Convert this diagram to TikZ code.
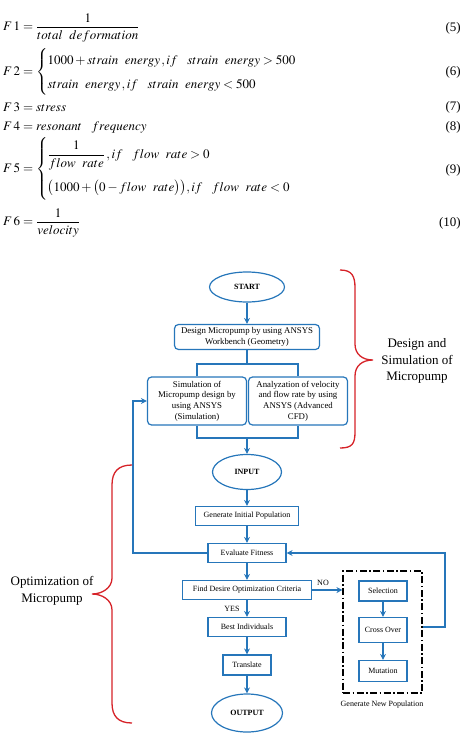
\documentclass[tikz,border=0pt]{standalone}
\usepackage{amsmath}
\usepackage{mathptmx}
\usepackage{fontspec}
\setmainfont{Liberation Serif}
\usetikzlibrary{arrows.meta,shapes.geometric}
\definecolor{flowblue}{RGB}{38,118,186}
\definecolor{bracered}{RGB}{214,34,40}
\newcommand{\eqfont}{\fontsize{13}{15.6}\selectfont}
\newcommand{\boxfont}{\fontsize{8}{9.5}\selectfont}
\newcommand{\topfont}{\fontsize{8.8}{10.6}\selectfont}
\newcommand{\bracefont}{\fontsize{13}{16.5}\selectfont}

\begin{document}
\begin{tikzpicture}[x=1pt,y=-1pt,>={Stealth[length=6pt,width=6pt]},
    eqn/.style={anchor=west,inner sep=0pt,font=\eqfont},
    blk/.style={draw=flowblue,line width=1.2pt,fill=white,align=center,inner sep=1pt,font=\boxfont},
    rblk/.style={blk,rounded corners=4pt,font=\topfont},
    term/.style={draw=flowblue,ellipse,line width=1.2pt,inner sep=0pt,font=\boxfont\bfseries},
    line/.style={flowblue,line width=1.2pt},
    arr/.style={line,->},
    pool/.style={draw,line width=1.1pt,dash pattern=on 7pt off 2.5pt on 1.5pt off 2.5pt},
    brace/.style={bracered,line width=1.3pt},
    bracetxt/.style={align=center,font=\bracefont}]
        \useasboundingbox (0,0) rectangle (465,743);

        % fitness functions
        \node (f1) at (3,28) [eqn] {$F\,1=\dfrac{1}{total\ \ deformation}$};
        \node (f2) at (3,72) [eqn] {\renewcommand{\arraystretch}{1.5}$F\,2=\left\{\begin{array}{@{}l@{}}1000+strain\ \ energy\,,if\ \ \ strain\ \ energy>500\\ strain\ \ energy\,,if\ \ \ strain\ \ energy<500\end{array}\right.$};
        \node (f3) at (3,107) [eqn] {$F\,3=stress$};
        \node (f4) at (3,127) [eqn] {$F\,4=resonant\ \ \ frequency$};
        \node (f5) at (3,169) [eqn] {\renewcommand{\arraystretch}{1.9}$F\,5=\left\{\begin{array}{@{}l@{}}\dfrac{1}{flow\ \ rate}\,,if\ \ \ flow\ \ rate>0\\ \bigl(1000+\bigl(0-flow\ \ rate\bigr)\bigr),if\ \ \ flow\ \ rate<0\end{array}\right.$};
        \node (f6) at (3,223) [eqn] {$F\,6=\dfrac{1}{velocity}$};
        \foreach \y/\n in {28/5,72/6,107/7,127/8,170/9,223/10}
                 \node (eq\n) at (461,\y) [anchor=east,inner sep=0pt,font=\eqfont] {(\n)};

        % flowchart
        \node (start) at (247,287) [term,minimum width=75pt,minimum height=30pt] {START};
        \node (design) at (247,337) [rblk,minimum width=145pt,minimum height=25pt] {Design Micropump by using ANSYS\\Workbench (Geometry)};
        \node (sim) at (197,401) [rblk,minimum width=99pt,minimum height=48pt] {Simulation of\\Micropump design by\\using ANSYS\\(Simulation)};
        \node (cfd) at (298,401) [rblk,minimum width=99pt,minimum height=48pt] {Analyzation of velocity\\and flow rate by using\\ANSYS (Advanced\\CFD)};
        \node (input) at (247,472) [term,minimum width=69pt,minimum height=35pt] {INPUT};
        \node (gen) at (247,516) [blk,minimum width=103pt,minimum height=19pt] {Generate Initial Population};
        \node (eval) at (247,553) [blk,minimum width=78pt,minimum height=19pt] {Evaluate Fitness};
        \node (find) at (247,590) [blk,minimum width=129pt,minimum height=19pt] {Find Desire Optimization Criteria};
        \node (best) at (247,627) [blk,minimum width=78pt,minimum height=19pt] {Best Individuals};
        \node (trans) at (247,665) [blk,minimum width=48pt,minimum height=20pt] {Translate};
        \node (output) at (247,713) [term,minimum width=71pt,minimum height=38pt] {OUTPUT};

        \node (gnp) at (382.5,632) [pool,minimum width=79pt,minimum height=122pt] {};
        \node (sel) at (383,591) [blk,minimum width=48pt,minimum height=20pt] {Selection};
        \node (cross) at (383,630) [blk,minimum width=48pt,minimum height=25pt] {Cross Over};
        \node (mut) at (383,671) [blk,minimum width=48pt,minimum height=21pt] {Mutation};
        \node (gnplbl) at (382,705) [font=\boxfont] {Generate New Population};

        \node (no) at (323,583) [font=\boxfont] {NO};
        \node (yes) at (232,609) [font=\boxfont] {YES};

        \coordinate (fork) at (247,364);
        \coordinate (join) at (247,438);
        \coordinate (back) at (445,627);
        \coordinate (loop) at (133,553);
        \draw[arr] (start) -- (design);
        \draw[line] (design) -- (fork);
        \draw[line] (sim) |- (fork) -| (cfd);
        \draw[line] (sim) |- (join) -| (cfd);
        \draw[arr] (join) -- (input);
        \foreach \a/\b in {input/gen,gen/eval,eval/find,find/best,best/trans,trans/output,sel/cross,cross/mut}
                 \draw[arr] (\a) -- (\b);
        \draw[arr] (find) -- (find -| gnp.west);
        \draw[arr] (back -| gnp.east) -- (back) |- (eval);
        \draw[arr] (eval) -- (loop) |- (sim);

        % braces
        \draw[brace] (340,270) .. controls (352,270) and (355,276) .. (355,288) -- (355,344)
                .. controls (355,354) and (362,360) .. (373,360)
                .. controls (362,360) and (355,366) .. (355,376) -- (355,432)
                .. controls (355,444) and (352,448) .. (340,448);
        \draw[brace] (132,465) .. controls (118,465) and (112,472) .. (112,485) -- (112,578)
                .. controls (112,588) and (102,594) .. (92,594)
                .. controls (102,594) and (112,600) .. (112,610) -- (112,703)
                .. controls (112,716) and (118,723) .. (132,723);
        \node (dsm) at (417,361) [bracetxt] {Design and\\Simulation of\\Micropump};
        \node (opt) at (52,591) [bracetxt] {Optimization of\\Micropump};
      \end{tikzpicture}
\end{document}
